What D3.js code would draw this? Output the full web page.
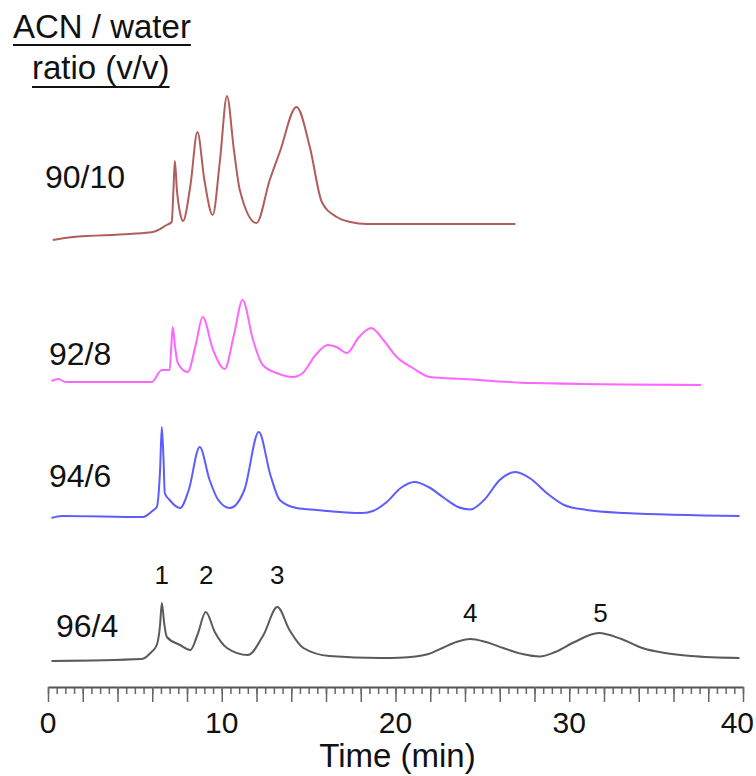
<!DOCTYPE html>
<html lang="en">
<meta charset="utf-8">
<head>
    <script src="https://d3js.org/d3.v7.min.js"></script>
</head>
<style>
    body { margin: 0; background: #fff; }
    svg text { font-family: "Liberation Sans", Arial, sans-serif; fill: #111; }
</style>
<body>
<script>
// chromatograms: [time (min), signal above the trace's own baseline]
var names = ["90/10", "92/8", "94/6", "96/4"];
var colors = ["#b25c5c", "#ff66ff", "#5c5cff", "#5a5a5a"];
var offsets = [44.7, 30.2, 16.9, 2.6];

var trace9010 = [
    [0.27, 0], [1.43, 0.3], [4.7, 0.6], [6.03, 0.8], [6.83, 1.5], [7.12, 1.8],
    [7.22, 5], [7.3, 7.9], [7.42, 5], [7.6, 2.7], [7.77, 1.9], [8.2, 5.5],
    [8.6, 10.8], [9.0, 6], [9.48, 2.5], [9.9, 8], [10.3, 14.4], [10.7, 9],
    [11.04, 5], [12.0, 1.7], [12.76, 6], [13.34, 8.8], [14.3, 13.3], [15.07, 9.3],
    [15.76, 3.8], [16.62, 2.3], [17.4, 1.8], [18.35, 1.6], [26.9, 1.6]
];
var trace928 = [
    [0.2, 0.4], [0.6, 0.6], [1.0, 0.3], [5.97, 0.3], [6.55, 1.5], [7.0, 1.5],
    [7.1, 4], [7.18, 5.8], [7.3, 4], [7.47, 2.2], [8.04, 1.3], [8.5, 4],
    [8.9, 6.8], [9.5, 3.5], [10.17, 1.6], [10.7, 5], [11.2, 8.5], [11.8, 4.5],
    [12.36, 2.0], [13.16, 1.2], [14.1, 0.8], [14.66, 1.2], [15.4, 3.0], [16.1, 4.0],
    [16.6, 3.8], [17.2, 3.2], [17.9, 4.8], [18.6, 5.7], [19.3, 4.5], [20.07, 2.8],
    [21, 1.7], [21.98, 0.8], [23.9, 0.6], [27.8, 0.2], [37.6, 0]
];
var trace946 = [
    [0.2, 0], [0.8, 0.2], [5.45, 0.1], [6.0, 0.7], [6.26, 1.1], [6.45, 4.8],
    [6.55, 9.1], [6.65, 5.8], [6.72, 2.5], [7.0, 1.8], [7.6, 1.0], [8.1, 2.8],
    [8.73, 7.1], [9.3, 3.8], [9.8, 1.8], [10.46, 1.0], [11.3, 2.8], [12.13, 8.6],
    [12.8, 4.3], [13.34, 1.8], [14.3, 1.0], [15.47, 0.8], [18.1, 0.5], [18.7, 0.7],
    [19.5, 1.6], [20.3, 3.0], [21.1, 3.6], [21.9, 3.1], [22.8, 2.0], [23.6, 1.1],
    [24.3, 0.85], [25.1, 1.8], [26.0, 3.8], [26.9, 4.6], [27.8, 3.9], [28.7, 2.5],
    [29.7, 1.3], [31.0, 0.8], [33.2, 0.5], [39.8, 0.2]
];
var trace964 = [
    [0.2, 0], [5.4, 0.2], [5.9, 0.8], [6.26, 1.6], [6.45, 3.6], [6.55, 5.8],
    [6.7, 3.6], [6.84, 2.4], [7.6, 1.6], [8.2, 1.1], [8.6, 2.6], [9.08, 4.9],
    [9.6, 2.9], [10.3, 1.3], [11.5, 0.6], [12.4, 2.6], [13.2, 5.4], [13.9, 3.1],
    [14.7, 1.3], [16.2, 0.5], [19.1, 0.3], [20.5, 0.35], [21.9, 0.7], [22.7, 1.3],
    [23.5, 1.9], [24.3, 2.2], [25.2, 1.9], [26.2, 1.3], [27.3, 0.7], [28.3, 0.45],
    [29.2, 0.9], [30.3, 1.9], [31.7, 2.8], [33.0, 2.2], [34.2, 1.3], [35.5, 0.8],
    [37.0, 0.5], [39.8, 0.3]
];
var traces = [trace9010, trace928, trace946, trace964];

var peakNames = ["1", "2", "3", "4", "5"];
var peakTimes = [6.55, 9.1, 13.2, 24.3, 31.8];

var width = 756, height = 776;
var svg = d3.select("body").append("svg")
    .attr("width", width)
    .attr("height", height);

var x = d3.scaleLinear().domain([0, 40]).range([48, 743]);
var y = d3.scaleLinear().domain([0, 60]).range([687, 87]);

// title
var t1 = svg.append("text").attr("x", 13).attr("y", 38)
    .style("font-size", "33px").text("ACN / water");
var t2 = svg.append("text").attr("x", 32).attr("y", 79)
    .style("font-size", "33px").text("ratio (v/v)");
[[t1, 45], [t2, 87]].forEach(function(p) {
    var bb = p[0].node().getBBox();
    svg.append("line")
        .attr("x1", bb.x).attr("x2", bb.x + bb.width)
        .attr("y1", p[1]).attr("y2", p[1])
        .attr("stroke", "#111").attr("stroke-width", 2);
});

// traces
var line = d3.line()
    .x(function(d) { return x(d[0]); })
    .curve(d3.curveMonotoneX);

traces.forEach(function(tr, i) {
    line.y(function(d) { return y(d[1] + offsets[i]); });
    svg.append("path")
        .attr("d", line(tr))
        .attr("fill", "none")
        .attr("stroke", colors[i])
        .attr("stroke-width", 2);
});

// trace labels
var labelPos = [[45, 188], [49, 365], [49, 487], [56, 637]];
svg.selectAll(".lab").data(names).enter().append("text")
    .attr("x", function(d, i) { return labelPos[i][0]; })
    .attr("y", function(d, i) { return labelPos[i][1]; })
    .style("font-size", "32px")
    .text(function(d) { return d; });

// peak numbers
svg.selectAll(".pk").data(peakNames).enter().append("text")
    .attr("x", function(d, i) { return x(peakTimes[i]); })
    .attr("y", function(d, i) { return i < 3 ? 584 : 622; })
    .attr("text-anchor", "middle")
    .style("font-size", "26px")
    .text(function(d) { return d; });

// x axis
var axisY = 687;
var ax = svg.append("g").attr("transform", "translate(0," + axisY + ")");
ax.append("g")
    .call(d3.axisBottom(x).tickValues(d3.range(0, 40.01, 0.5)).tickSize(7).tickFormat(""))
    .call(function(g) { g.select(".domain").remove(); })
    .selectAll("line").attr("stroke", "#666").attr("stroke-width", 1.5);
ax.append("g")
    .call(d3.axisBottom(x).tickValues(d3.range(0, 40.01, 2)).tickSize(15).tickSizeOuter(0).tickFormat(""))
    .call(function(g) {
        g.select(".domain").attr("stroke", "#555").attr("stroke-width", 2);
        g.selectAll("line").attr("stroke", "#666").attr("stroke-width", 1.5);
    });
ax.selectAll(".tl").data([0, 10, 20, 30, 40]).enter().append("text")
    .attr("x", function(d) { return d === 40 ? 754 : x(d); })
    .attr("y", 46)
    .attr("text-anchor", function(d) { return d === 40 ? "end" : "middle"; })
    .style("font-size", "30px")
    .text(function(d) { return d; });

svg.append("text")
    .attr("x", x(20) + 2).attr("y", 767)
    .attr("text-anchor", "middle")
    .style("font-size", "33px")
    .text("Time (min)");
</script>
</body>
</html>
